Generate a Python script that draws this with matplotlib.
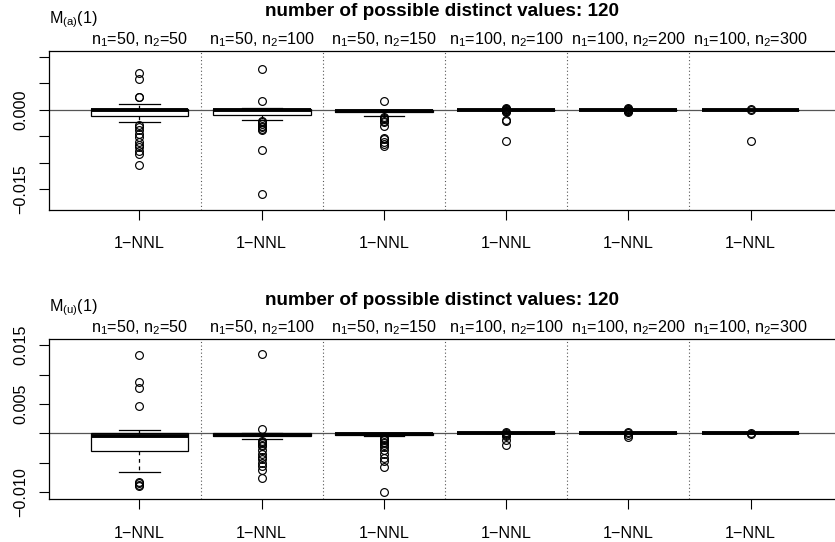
import matplotlib
matplotlib.use('Agg')
import matplotlib.pyplot as plt

plt.rcParams['font.family'] = ['Liberation Sans', 'DejaVu Sans']
plt.rcParams['mathtext.fontset'] = 'custom'
plt.rcParams['mathtext.rm'] = 'Liberation Sans'
plt.rcParams['mathtext.it'] = 'Liberation Sans:italic'
plt.rcParams['axes.unicode_minus'] = True

# ---------------- data ----------------
title_text = "number of possible distinct values: 120"
group_labels = [r'n$_\mathrm{1}$=50, n$_\mathrm{2}$=50',
                r'n$_\mathrm{1}$=50, n$_\mathrm{2}$=100',
                r'n$_\mathrm{1}$=50, n$_\mathrm{2}$=150',
                r'n$_\mathrm{1}$=100, n$_\mathrm{2}$=100',
                r'n$_\mathrm{1}$=100, n$_\mathrm{2}$=200',
                r'n$_\mathrm{1}$=100, n$_\mathrm{2}$=300']
xtick_label = "1\u2212NNL"

# top panel: M_(a)(1)
label_a = r'M$_\mathrm{(a)}$(1)'
q1_a = [-0.0011, -0.0009, -0.0005, 0.0, 0.0, 0.0]
med_a = [-0.0001, 0.0000, -0.0003, 0.0, 0.0, 0.0]
q3_a = [0.0001, 0.0002, 0.0000, 0.0, 0.0, 0.0]
wlo_a = [-0.0023, -0.0019, -0.0012, 0.0, 0.0, 0.0]
whi_a = [0.0010, 0.0004, 0.0000, 0.0, 0.0, 0.0]
fl_a1 = [0.0070, 0.0058, 0.0024, 0.0024, -0.0029, -0.0033, -0.0039, -0.0045,
         -0.0052, -0.0061, -0.0066, -0.0071, -0.0077, -0.0084, -0.0105]
fl_a2 = [0.0077, 0.0017, -0.0021, -0.0024, -0.0027, -0.0030, -0.0033, -0.0036,
         -0.0039, -0.0075, -0.0158]
fl_a3 = [0.0016, -0.0013, -0.0015, -0.0017, -0.0021, -0.0024, -0.0030, -0.0053,
         -0.0056, -0.0060, -0.0064, -0.0069]
fl_a4 = [0.0003, 0.0002, 0.0001, -0.0001, -0.0002, -0.0003, -0.0004, -0.0019,
         -0.0021, -0.0058]
fl_a5 = [0.0003, 0.0002, 0.0001, -0.0001, -0.0002, -0.0003, -0.0004]
fl_a6 = [0.0001, -0.0001, -0.0058]
yticks_a = [-0.015, -0.010, -0.005, 0.000, 0.005, 0.010]
yticklabels_a = ['\u22120.015', '', '', '0.000', '', '']
ylim_a = (-0.01889, 0.01107)

# bottom panel: M_(u)(1)
label_u = r'M$_\mathrm{(u)}$(1)'
q1_u = [-0.0030, -0.0004, -0.0002, 0.0, 0.0, 0.0]
med_u = [-0.0005, -0.0002, -0.0001, 0.0, 0.0, 0.0]
q3_u = [0.0000, 0.0001, 0.0000, 0.0, 0.0, 0.0]
wlo_u = [-0.0065, -0.0009, -0.0005, 0.0, 0.0, 0.0]
whi_u = [0.0006, 0.0001, 0.0000, 0.0, 0.0, 0.0]
fl_u1 = [0.0134, 0.0088, 0.0078, 0.0046, -0.0082, -0.0085, -0.0088, -0.0090]
fl_u2 = [0.0136, 0.0007, -0.0013, -0.0015, -0.0017, -0.0020, -0.0022, -0.0028,
         -0.0035, -0.0040, -0.0044, -0.0050, -0.0056, -0.0062, -0.0075]
fl_u3 = [-0.0007, -0.0009, -0.0011, -0.0014, -0.0017, -0.0020, -0.0023, -0.0028,
         -0.0035, -0.0041, -0.0047, -0.0057, -0.0099]
fl_u4 = [0.0002, 0.0001, -0.0001, -0.0002, -0.0004, -0.0011, -0.0019]
fl_u5 = [0.0002, 0.0001, -0.0003, -0.0006]
fl_u6 = [0.0001, -0.0001]
yticks_u = [-0.010, -0.005, 0.000, 0.005, 0.010, 0.015]
yticklabels_u = ['\u22120.010', '', '', '0.005', '', '0.015']
ylim_u = (-0.01109, 0.01602)

# ---------------- figure ----------------
W, H = 835, 542
fig = plt.figure(figsize=(W / 100, H / 100), dpi=100)

def px_rect(left, right, top, bottom):
    return [left / W, 1 - bottom / H, (right - left) / W, (bottom - top) / H]

FS = 11.6
FS_T = 13.6

def panel(rect, q1, med, q3, wlo, whi, fliers, yticks, yticklabels, ylim,
          mlabel, xlab_pad):
    ax = fig.add_axes(rect)
    n = len(q1)
    pos = list(range(1, n + 1))
    stats = []
    for i in range(n):
        stats.append(dict(q1=q1[i], med=med[i], q3=q3[i], whislo=wlo[i],
                          whishi=whi[i], fliers=fliers[i]))
    ax.axhline(0, color='#555555', lw=0.9, zorder=1)
    for s in range(1, n):
        ax.axvline(s + 0.5, color='#555555', lw=0.8, ls=(0, (1, 2.2)), zorder=1)
    ax.bxp(stats, positions=pos, widths=0.8, capwidths=0.33, patch_artist=True,
           boxprops=dict(facecolor='white', edgecolor='black', lw=0.9),
           medianprops=dict(color='black', lw=2.8, solid_capstyle='butt'),
           whiskerprops=dict(color='black', lw=0.9, ls=(0, (3, 3))),
           capprops=dict(color='black', lw=0.9),
           flierprops=dict(marker='o', markerfacecolor='none',
                           markeredgecolor='black', markersize=5.6,
                           markeredgewidth=0.85, linestyle='none'),
           zorder=2)
    ax.set_xlim(0.26, 6.74)
    ax.set_ylim(*ylim)
    ax.set_xticks(pos)
    ax.set_xticklabels([xtick_label] * n)
    ax.set_yticks(yticks)
    ax.set_yticklabels(yticklabels, rotation=90, va='center')
    ax.tick_params(axis='x', length=7.2, width=0.8, pad=xlab_pad, labelsize=FS,
                   direction='out')
    ax.tick_params(axis='y', length=7.2, width=0.8, pad=7.6, labelsize=FS,
                   direction='out')
    for sp in ['left', 'top', 'bottom']:
        ax.spines[sp].set_linewidth(0.9)
    ax.spines['right'].set_visible(False)
    for i, lab in enumerate(group_labels):
        ax.annotate(lab, xy=(pos[i], 1), xycoords=('data', 'axes fraction'),
                    xytext=(0, 5.0), textcoords='offset points',
                    ha='center', va='baseline', fontsize=FS)
    ax.annotate(mlabel, xy=(0, 1), xycoords='axes fraction',
                xytext=(0, 19.9), textcoords='offset points',
                ha='left', va='baseline', fontsize=FS)
    return ax

ax1 = panel(px_rect(49, 841, 51, 210), q1_a, med_a, q3_a, wlo_a, whi_a,
            [fl_a1, fl_a2, fl_a3, fl_a4, fl_a5, fl_a6],
            yticks_a, yticklabels_a, ylim_a, label_a, 11.3)
ax2 = panel(px_rect(49, 841, 339.3, 498.7), q1_u, med_u, q3_u, wlo_u, whi_u,
            [fl_u1, fl_u2, fl_u3, fl_u4, fl_u5, fl_u6],
            yticks_u, yticklabels_u, ylim_u, label_u, 12.5)

fig.text(442 / W, 1 - 16.5 / H, title_text, ha='center', va='baseline',
         fontsize=FS_T, fontweight='bold')
fig.text(442 / W, 1 - 305 / H, title_text, ha='center', va='baseline',
         fontsize=FS_T, fontweight='bold')

fig.savefig('out.png', dpi=100)
